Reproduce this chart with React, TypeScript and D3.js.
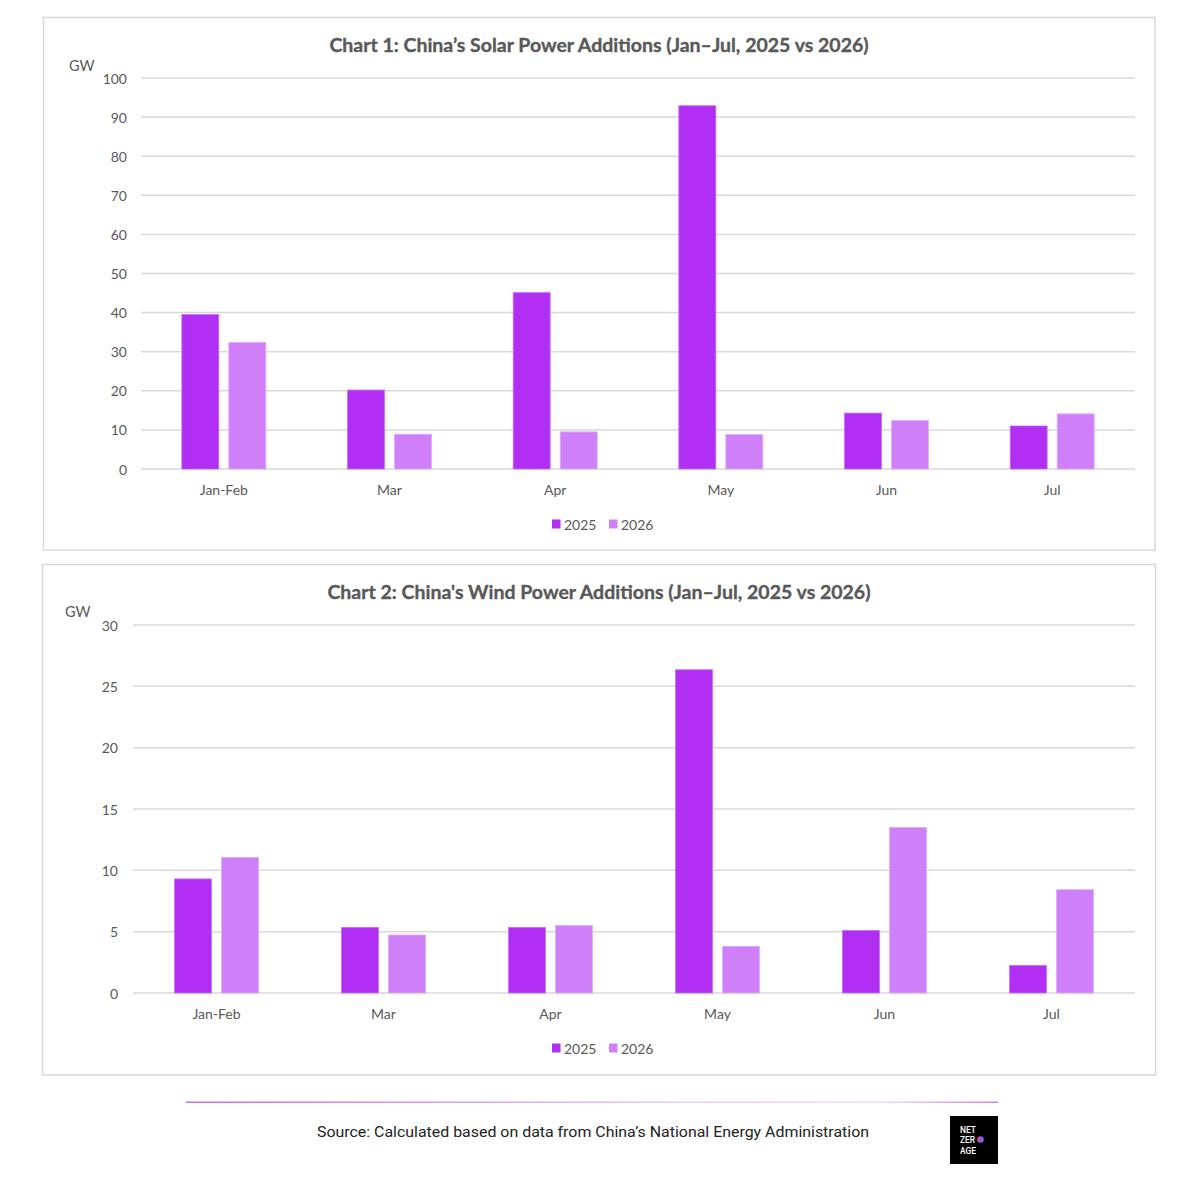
import React from "react";
import * as d3 from "d3";

const categories = ["Jan-Feb", "Mar", "Apr", "May", "Jun", "Jul"];
const seriesNames = ["2025", "2026"];
const solar2025 = [39.5, 20.2, 45.1, 92.9, 14.3, 11.0];
const solar2026 = [32.4, 8.9, 9.5, 8.8, 12.4, 14.1];
const wind2025 = [9.3, 5.35, 5.35, 26.35, 5.1, 2.25];
const wind2026 = [11.05, 4.73, 5.5, 3.8, 13.5, 8.42];
const solarTicks = [0, 10, 20, 30, 40, 50, 60, 70, 80, 90, 100];
const windTicks = [0, 5, 10, 15, 20, 25, 30];
const logoLines = ["NET", "ZER", "AGE"];

const COLORS = ["#b12ff2", "#cf80f8"];
const STROKES = ["#c970f6", "#e0acfa"];
const TEXT = "#595959";
const FONT = "Lato, 'Open Sans', sans-serif";

type PanelProps = {
  frame: { x: number; y: number; w: number; h: number };
  plot: { left: number; right: number; top: number; bottom: number };
  maxV: number;
  ticks: number[];
  tickX: number;
  title: string;
  titleY: number;
  gw: { x: number; y: number };
  xLabelY: number;
  legendY: number;
  s2025: number[];
  s2026: number[];
};

function Panel(p: PanelProps) {
  const x0 = d3.scaleBand<string>().domain(categories).range([p.plot.left, p.plot.right]);
  const bw = x0.bandwidth();
  const step = 47;
  const inner = 0.213;
  const outer = (bw / step - (2 - inner)) / 2;
  const x1 = d3.scaleBand<string>().domain(seriesNames).range([0, bw]).paddingInner(inner).paddingOuter(outer);
  const y = d3.scaleLinear().domain([0, p.maxV]).range([p.plot.bottom, p.plot.top]);
  const series = [p.s2025, p.s2026];
  return (
    <g>
      <rect x={p.frame.x} y={p.frame.y} width={p.frame.w} height={p.frame.h} fill="#fff" stroke="#d9d9d9" strokeWidth={1.5} />
      <text x={599} y={p.titleY} textAnchor="middle" dominantBaseline="central" fontFamily={FONT} fontWeight={700} fontSize={19.5} fill={TEXT} stroke={TEXT} strokeWidth={0.35}>
        {p.title}
      </text>
      <text x={p.gw.x} y={p.gw.y} dominantBaseline="central" fontFamily={FONT} fontSize={14.5} fill={TEXT}>GW</text>
      {p.ticks.map((t) => (
        <g key={t}>
          <line x1={p.plot.left} x2={p.plot.right} y1={y(t)} y2={y(t)} stroke="#d9d9d9" strokeWidth={1.5} />
          <text x={p.tickX} y={y(t)} textAnchor="end" dominantBaseline="central" fontFamily={FONT} fontSize={14} fill={TEXT}>
            {t}
          </text>
        </g>
      ))}
      {categories.map((c, i) => (
        <g key={c}>
          {series.map((s, si) => (
            <rect
              key={si}
              x={(x0(c) as number) + (x1(seriesNames[si]) as number)}
              y={y(s[i])}
              width={x1.bandwidth()}
              height={y(0) - y(s[i])}
              fill={COLORS[si]}
              stroke={STROKES[si]}
              strokeWidth={0.8}
            />
          ))}
          <text x={(x0(c) as number) + bw / 2} y={p.xLabelY} textAnchor="middle" dominantBaseline="central" fontFamily={FONT} fontSize={14} fill={TEXT}>
            {c}
          </text>
        </g>
      ))}
      {seriesNames.map((s, si) => {
        const lx = 552 + si * 57;
        return (
          <g key={s}>
            <rect x={lx} y={p.legendY - 4.5} width={8.5} height={9} fill={COLORS[si]} />
            <text x={lx + 12} y={p.legendY} dominantBaseline="central" fontFamily={FONT} fontSize={14} fill={TEXT}>
              {s}
            </text>
          </g>
        );
      })}
    </g>
  );
}

export default function App() {
  return (
    <svg width={1200} height={1200} style={{ position: "absolute", left: 0, top: 0, background: "#fff" }}>
      <defs>
        <linearGradient id="rule" x1="0" x2="1" y1="0" y2="0">
          <stop offset="0" stopColor="#c56cf0" />
          <stop offset="0.6" stopColor="#e9c9f9" />
          <stop offset="0.85" stopColor="#f0dcfb" />
          <stop offset="1" stopColor="#cf86f2" />
        </linearGradient>
        <linearGradient id="dot" x1="0" x2="1" y1="0" y2="0">
          <stop offset="0" stopColor="#f03c9a" />
          <stop offset="1" stopColor="#5a6cff" />
        </linearGradient>
      </defs>
      <rect width={1200} height={1200} fill="#fff" />
      <Panel
        frame={{ x: 43.5, y: 17.5, w: 1111.5, h: 532.5 }}
        plot={{ left: 141, right: 1135, top: 78, bottom: 469 }}
        maxV={100}
        ticks={solarTicks}
        tickX={127}
        title="Chart 1: China’s Solar Power Additions (Jan–Jul, 2025 vs 2026)"
        titleY={44}
        gw={{ x: 69, y: 65 }}
        xLabelY={489}
        legendY={524}
        s2025={solar2025}
        s2026={solar2026}
      />
      <Panel
        frame={{ x: 42.5, y: 564.5, w: 1113, h: 510.5 }}
        plot={{ left: 133, right: 1135, top: 625, bottom: 993 }}
        maxV={30}
        ticks={windTicks}
        tickX={118}
        title="Chart 2: China's Wind Power Additions (Jan–Jul, 2025 vs 2026)"
        titleY={591}
        gw={{ x: 65, y: 611 }}
        xLabelY={1013}
        legendY={1048}
        s2025={wind2025}
        s2026={wind2026}
      />
      <rect x={186} y={1101.5} width={812} height={1.5} fill="url(#rule)" />
      <text x={317} y={1132} dominantBaseline="central" fontFamily="Roboto, sans-serif" fontSize={15.5} fill="#222" textLength={552} lengthAdjust="spacingAndGlyphs">
        Source: Calculated based on data from China’s National Energy Administration
      </text>
      <rect x={950} y={1116} width={48} height={48} fill="#000" />
      <g fontFamily="Roboto, sans-serif" fontWeight={500} fontSize={9} fill="#fff">
        {logoLines.map((l, i) => (
          <text key={l} x={960} y={1132.5 + i * 10.5} textLength={l === "ZER" ? 15 : 16} lengthAdjust="spacingAndGlyphs">
            {l}
          </text>
        ))}
      </g>
      <circle cx={980.5} cy={1139.5} r={3.3} fill="url(#dot)" />
    </svg>
  );
}
